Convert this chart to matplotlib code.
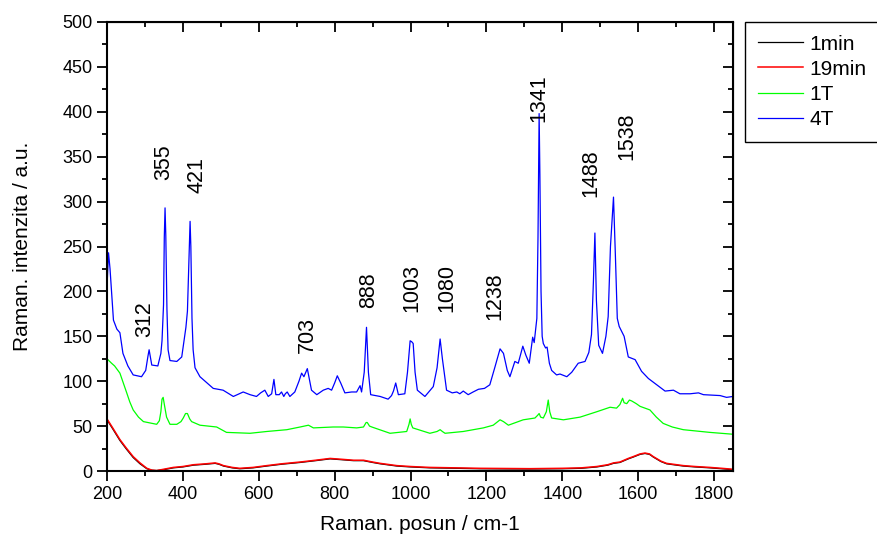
import numpy as np
import matplotlib
matplotlib.use('Agg')
import matplotlib.pyplot as plt
from matplotlib.ticker import MultipleLocator

plt.rcParams['font.family'] = ['Liberation Sans', 'DejaVu Sans']

# --- spektra (x = Raman. posun, y = intenzita) ---
x_4T = [200, 204, 208, 217, 226, 234, 242, 255, 269, 291, 302, 308, 311, 315, 318, 334, 342, 345,
        349, 351, 353, 355, 358, 361, 366, 384, 397, 408, 412, 416, 419, 421, 424, 427, 432, 445,
        480, 506, 533, 559, 577, 594,
        605, 616, 625, 634, 640, 645, 654, 660, 666, 670, 675, 682, 695, 706, 713, 719, 728, 739,
        753, 770, 783, 792, 800, 807, 816, 827, 845, 858, 867, 871, 878, 884, 889, 895, 920, 941,
        950, 955, 961, 968, 985, 992, 999, 1003, 1007, 1012, 1018, 1038, 1060, 1070, 1078, 1084,
        1095, 1110, 1122, 1130, 1139, 1152, 1165, 1179, 1195, 1209, 1222, 1236, 1245, 1255, 1262,
        1275, 1284, 1296, 1304, 1313, 1322, 1326, 1333, 1336, 1339, 1341, 1344, 1347, 1350, 1356,
        1360, 1366, 1372, 1385, 1394, 1412, 1425, 1442, 1460, 1470, 1477, 1482, 1486, 1490, 1496,
        1506, 1515, 1521, 1527, 1535, 1540, 1545, 1550, 1563, 1574, 1592, 1609, 1627, 1649, 1671,
        1693, 1710, 1737, 1759, 1772, 1816, 1833, 1850]
y_4T = [205, 243, 225, 168, 158, 154, 131, 117, 107, 105, 112, 128, 135, 125, 118, 117, 131, 145,
        185, 260, 293, 262, 180, 135, 123, 122, 127, 160, 178, 235, 278, 250, 170, 135, 115, 105,
        92, 90, 83, 88, 85, 83,
        87, 90, 83, 86, 102, 85, 85, 88, 83, 86, 88, 83, 88, 100, 109, 105, 114, 90,
        85, 90, 92, 90, 98, 106, 98, 87, 88, 88, 95, 88, 110, 160, 110, 85, 83, 80,
        84, 89, 98, 85, 86, 110, 145, 144, 142, 110, 90, 83, 94, 115, 147, 125,
        90, 87, 88, 86, 89, 85, 88, 91, 92, 96, 115, 136, 131, 112, 105,
        122, 120, 139, 129, 120, 149, 143, 170, 260, 398, 330, 200, 150, 142, 137,
        138, 120, 112, 107, 108, 105, 110, 120, 122, 132, 152, 210, 265, 190, 140,
        131, 150, 172, 250, 305, 240, 170, 161, 150, 127, 124, 111, 103, 96, 89,
        90, 86, 86, 87, 85, 84, 82, 83]

x_1T = [200, 212, 220, 234, 243, 252, 260, 269, 283, 296, 331, 338, 342, 345, 348, 352, 357, 366,
        384, 395, 401, 407, 412, 418, 423, 445, 489, 515, 577, 621, 674, 709, 731, 744, 796, 823,
        858, 876, 883, 886, 892, 898, 946, 990, 996, 999, 1002, 1006, 1051, 1070, 1078, 1084, 1091,
        1139, 1192, 1218, 1236, 1245, 1258, 1297, 1328, 1335, 1339, 1343, 1350, 1358, 1363, 1367,
        1372, 1403, 1447, 1491, 1526, 1543, 1552, 1559, 1563, 1570, 1577, 1583, 1595, 1605, 1631,
        1648, 1666, 1690, 1719, 1789, 1848]
y_1T = [125, 120, 117, 109, 98, 87, 77, 68, 60, 55, 52, 56, 66, 80, 82, 72, 60, 52,
        52, 55, 59, 64, 64, 58, 55, 51, 49, 43, 42, 44, 46, 49, 51, 48, 49, 49,
        48, 49, 54, 54, 50, 49, 42, 44, 52, 58, 52, 48, 42, 44, 46, 44, 42,
        44, 48, 51, 57, 55, 51, 57, 59, 62, 64, 60, 59, 66, 79, 66,
        59, 57, 60, 66, 71, 70, 74, 81, 76, 75, 79, 78, 75, 72, 68,
        60, 53, 49, 46, 43, 41]

x_19min = [200, 215, 234, 250, 269, 287, 305, 318, 331, 350, 375, 400, 428, 460, 485, 495, 507,
           530, 550, 585, 621, 660, 709, 750, 788, 820, 850, 876, 900, 920, 964, 1000, 1051, 1120,
           1183, 1250, 1315, 1400, 1450, 1491, 1520, 1535, 1552, 1574, 1587, 1605, 1618, 1630,
           1640, 1660, 1675, 1719, 1750, 1789, 1820, 1848]
y_19min = [58, 48, 35, 26, 16, 9, 3, 1, 0.5, 2, 4, 5, 7, 8, 9, 8, 6,
           4, 3, 4, 6, 8, 10, 12, 14, 13, 12, 12, 10, 8.5, 6, 5, 4, 3.5,
           3, 2.8, 2.6, 3, 3.5, 5, 7, 9, 10, 14, 16, 19, 20, 19,
           16, 11, 8.5, 6, 5, 4, 3, 2]

x_1min = [200, 215, 234, 250, 269, 287, 305, 318, 331, 350, 375, 400, 428, 460, 485, 495, 507,
          530, 550, 585, 621, 660, 709, 750, 788, 820, 850, 876, 900, 920, 964, 1000, 1051, 1120,
          1183, 1250, 1315, 1400, 1450, 1491, 1520, 1535, 1552, 1574, 1587, 1605, 1618, 1630,
          1640, 1660, 1675, 1719, 1750, 1789, 1820, 1848]
y_1min = [57, 47, 34, 25, 15, 8, 2.5, 0.8, 0.5, 1.5, 3.5, 4.5, 6.5, 7.5, 8.5, 7.5, 5.5,
          3.5, 2.5, 3.5, 5.5, 7.5, 9.5, 11.5, 13.5, 12.5, 11.5, 11.5, 9.5, 8, 5.5, 4.5, 3.5, 3,
          2.5, 2.3, 2.2, 2.5, 3, 4.5, 6.5, 8.5, 9.5, 13.5, 15.5, 18.5, 19.5, 18.5,
          15.5, 10.5, 8, 5.5, 4.5, 3.5, 2.5, 1.5]

# popisky piku: text, pozice x, spodni okraj y
peak_txt = ['312', '355', '421', '703', '888', '1003', '1080', '1238', '1341', '1488', '1538']
peak_x = [300, 350, 436, 729, 889, 1003, 1095, 1223, 1339, 1475, 1570]
peak_y = [149, 324, 310, 131, 181, 177, 177, 168, 389, 305, 346]

fig = plt.figure(figsize=(8.77, 5.38), dpi=100)
ax = fig.add_axes([107 / 877, 67 / 538, 626 / 877, 449 / 538])

ax.plot(x_1min, y_1min, color='black', lw=0.9, label='1min')
ax.plot(x_19min, y_19min, color='#ff0000', lw=1.1, label='19min')
ax.plot(x_1T, y_1T, color='#00ff00', lw=0.9, label='1T')
ax.plot(x_4T, y_4T, color='#0000ff', lw=0.9, label='4T')

for t, px, py in zip(peak_txt, peak_x, peak_y):
    ax.text(px, py, t, rotation=90, ha='center', va='bottom', fontsize=15.5)

ax.set_xlim(200, 1850)
ax.set_ylim(0, 500)
ax.xaxis.set_major_locator(MultipleLocator(200))
ax.xaxis.set_minor_locator(MultipleLocator(100))
ax.yaxis.set_major_locator(MultipleLocator(50))
ax.yaxis.set_minor_locator(MultipleLocator(25))
ax.tick_params(which='major', direction='out', length=7, width=1.3, labelsize=13)
ax.tick_params(which='minor', direction='out', length=3.5, width=1.3)
for s in ax.spines.values():
    s.set_linewidth(1.5)

# zrcadlove osy nahore a vpravo (ticky dovnitr)
top = ax.secondary_xaxis('top')
top.xaxis.set_major_locator(MultipleLocator(200))
top.xaxis.set_minor_locator(MultipleLocator(100))
top.tick_params(which='both', direction='in', labeltop=False, width=1.3)
top.tick_params(which='major', length=7)
top.tick_params(which='minor', length=3.5)
right = ax.secondary_yaxis('right')
right.yaxis.set_major_locator(MultipleLocator(50))
right.yaxis.set_minor_locator(MultipleLocator(25))
right.tick_params(which='both', direction='in', labelright=False, width=1.3)
right.tick_params(which='major', length=7)
right.tick_params(which='minor', length=3.5)

ax.set_xlabel('Raman. posun / cm-1', fontsize=15, labelpad=9)
ax.set_ylabel('Raman. intenzita / a.u.', fontsize=15, labelpad=22)

leg = fig.legend(loc='upper left', bbox_to_anchor=(745 / 877, 1 - 22 / 538), fontsize=15,
                 frameon=True, fancybox=False, edgecolor='black', framealpha=1,
                 handlelength=2.2, handletextpad=0.3, labelspacing=0.3, borderpad=0.6,
                 borderaxespad=0)
leg.get_frame().set_linewidth(1.0)

fig.savefig('out.png', dpi=100)
